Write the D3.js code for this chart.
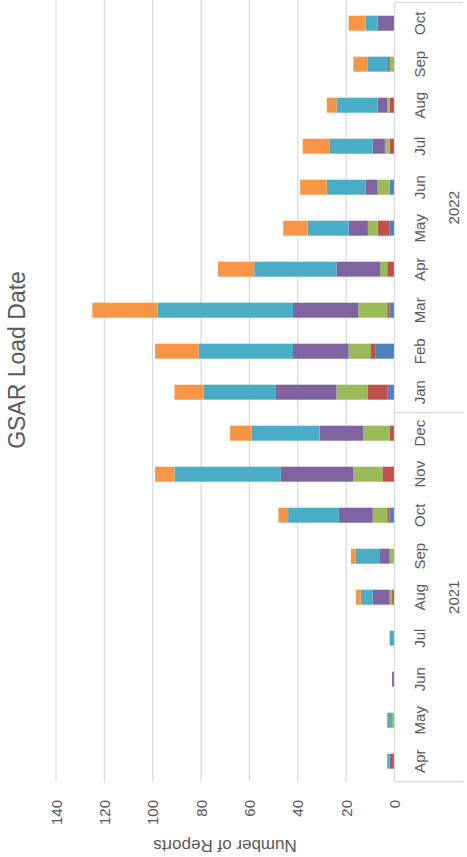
<!DOCTYPE html>
<html>
<head>
<meta charset="utf-8">
<script src="https://cdn.jsdelivr.net/npm/d3@7"></script>
<style>
  html, body { margin: 0; padding: 0; background: #ffffff; }
  svg { display: block; }
  text { font-family: "Liberation Sans", Arial, sans-serif; fill: #595959; }
</style>
</head>
<body>
<script>
// ---- data (categories: Apr 2021 .. Oct 2022) ----
const months = ["Apr","May","Jun","Jul","Aug","Sep","Oct","Nov","Dec","Jan","Feb","Mar","Apr","May","Jun","Jul","Aug","Sep","Oct"];
const years  = ["2021","2021","2021","2021","2021","2021","2021","2021","2021","2022","2022","2022","2022","2022","2022","2022","2022","2022","2022"];
const yearGroups = ["2021","2022"];

const seriesBlue   = [0,0,0,0,0,0, 2, 0, 0, 3, 8, 2, 0, 2, 2, 0, 0,0,0];
const seriesRed    = [1,0,0,0,1,0, 1, 5, 2, 8, 2, 1, 3, 5, 0, 2, 2,0,0];
const seriesGreen  = [0,1,0,0,1,2, 6,12,11,13, 9,12, 3, 4, 5, 2, 1,2,0];
const seriesPurple = [1,0,1,0,7,4,14,30,18,25,23,27,18, 8, 5, 5, 4,1,7];
const seriesTeal   = [1,2,0,2,5,10,21,44,28,30,39,56,34,17,16,18,17,8,5];
const seriesOrange = [0,0,0,0,2,2, 4, 8, 9,12,18,27,15,10,11,11, 4,6,7];

const valueTicks = [0,20,40,60,80,100,120,140];
const chartTitle = "GSAR Load Date";
const valueAxisTitle = "Number of Reports";

const seriesKeys = ["blue","red","green","purple","teal","orange"];
const seriesColors = {blue:"#4F81BD", red:"#C0504D", green:"#9BBB59", purple:"#8064A2", teal:"#4BACC6", orange:"#F79646"};
const seriesArrays = {blue:seriesBlue, red:seriesRed, green:seriesGreen, purple:seriesPurple, teal:seriesTeal, orange:seriesOrange};

const table = months.map((m,i) => {
  const row = {key: years[i] + "-" + m, month: m, year: years[i]};
  seriesKeys.forEach(k => row[k] = seriesArrays[k][i]);
  return row;
});

// ---- layout: chart drawn as a column chart, then rotated -90deg ----
const pageW = 467, pageH = 857;
const W = pageH, H = pageW; // unrotated frame

const svg = d3.select("body").append("svg").attr("width", pageW).attr("height", pageH);
svg.append("rect").attr("width", pageW).attr("height", pageH).attr("fill", "#fff");
const g = svg.append("g").attr("transform", `translate(0,${pageH}) rotate(-90)`);

const plotL = 75.3, plotR = 854.3;
const axisV = 394.5;

const x = d3.scaleBand().domain(table.map(d => d.key)).range([plotL, plotR]).paddingInner(0.634).paddingOuter(0.317);
const y = d3.scaleLinear().domain([0,140]).range([axisV, 56]);

// gridlines
g.append("g").selectAll("line").data(valueTicks.filter(t => t > 0)).join("line")
  .attr("x1", plotL).attr("x2", W)
  .attr("y1", d => y(d)).attr("y2", d => y(d))
  .attr("stroke", "#d9d9d9").attr("stroke-width", 1.2);

// value tick labels
g.append("g").selectAll("text").data(valueTicks).join("text")
  .attr("x", 57).attr("y", d => y(d))
  .attr("text-anchor", "end").attr("dominant-baseline", "central")
  .style("font-size", "15px")
  .text(d => d);

// stacked bars
const stack = d3.stack().keys(seriesKeys)(table);
g.append("g").selectAll("g").data(stack).join("g")
  .attr("fill", s => seriesColors[s.key])
  .selectAll("rect").data(s => s).join("rect")
  .attr("x", d => x(d.data.key))
  .attr("width", x.bandwidth())
  .attr("y", d => y(d[1]))
  .attr("height", d => y(d[0]) - y(d[1]));

// category axis line
const axisG = g.append("g").attr("stroke", "#d9d9d9").attr("stroke-width", 1.2);
axisG.append("line").attr("x1", plotL).attr("x2", plotR).attr("y1", axisV).attr("y2", axisV);
// group separators
const groupBounds = [];
yearGroups.forEach(yr => {
  const keys = table.filter(d => d.year === yr).map(d => d.key);
  const start = x(keys[0]) - x.step() * x.paddingInner() / 2;
  const end = x(keys[keys.length-1]) + x.bandwidth() + x.step() * x.paddingInner() / 2;
  groupBounds.push({year: yr, start, end});
});
const sepPos = [groupBounds[0].start, groupBounds[0].end, groupBounds[1].end];
axisG.selectAll("line.sep").data(sepPos).join("line").attr("class","sep")
  .attr("x1", d => d).attr("x2", d => d).attr("y1", axisV).attr("y2", 463);

// month labels
g.append("g").selectAll("text").data(table).join("text")
  .attr("x", d => x(d.key) + x.bandwidth()/2).attr("y", 425)
  .attr("text-anchor", "middle")
  .style("font-size", "15px")
  .text(d => d.month);

// year labels
g.append("g").selectAll("text").data(groupBounds).join("text")
  .attr("x", d => (d.start + d.end)/2).attr("y", 459)
  .attr("text-anchor", "middle")
  .style("font-size", "15px")
  .text(d => d.year);

// value axis title
g.append("text")
  .attr("transform", `translate(17,225) rotate(-90)`)
  .attr("text-anchor", "middle")
  .style("font-size", "17px")
  .text(valueAxisTitle);

// chart title
g.append("text")
  .attr("x", 497).attr("y", 25)
  .attr("text-anchor", "middle")
  .style("font-size", "23px")
  .text(chartTitle);
</script>
</body>
</html>
